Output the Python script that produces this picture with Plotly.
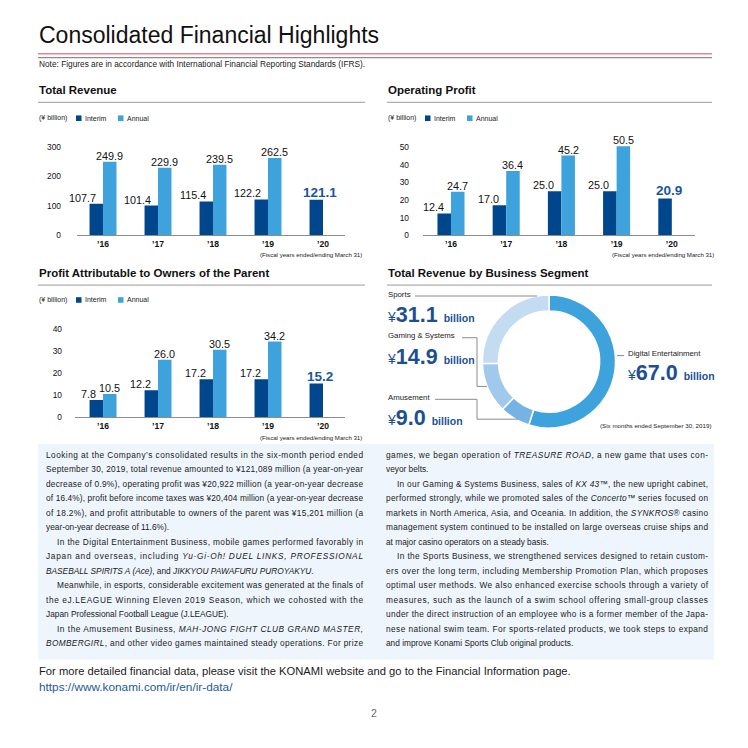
import json
import plotly.graph_objects as go

# ---------------- data ----------------
years = ["’16", "’17", "’18", "’19", "’20"]
rev_interim = [107.7, 101.4, 115.4, 122.2, 121.1]
rev_annual = [249.9, 229.9, 239.5, 262.5, None]
op_interim = [12.4, 17.0, 25.0, 25.0, 20.9]
op_annual = [24.7, 36.4, 45.2, 50.5, None]
pa_interim = [7.8, 12.2, 17.2, 17.2, 15.2]
pa_annual = [10.5, 26.0, 30.5, 34.2, None]
rev_ticks = [0, 100, 200, 300]
op_ticks = [0, 10, 20, 30, 40, 50]
pa_ticks = [0, 10, 20, 30, 40]

segments = ["Digital Entertainment", "Amusement", "Gaming & Systems", "Sports"]
seg_values = [67.0, 9.0, 14.9, 31.1]

# (text, indented, justified)
left_col = [
    ("Looking at the Company’s consolidated results in the six-month period ended", 0, 1),
    ("September 30, 2019, total revenue amounted to ¥121,089 million (a year-on-year", 0, 1),
    ("decrease of 0.9%), operating profit was ¥20,922 million (a year-on-year decrease", 0, 1),
    ("of 16.4%), profit before income taxes was ¥20,404 million (a year-on-year decrease", 0, 1),
    ("of 18.2%), and profit attributable to owners of the parent was ¥15,201 million (a", 0, 1),
    ("year-on-year decrease of 11.6%).", 0, 0),
    ("In the Digital Entertainment Business, mobile games performed favorably in", 1, 1),
    ("Japan and overseas, including <i>Yu-Gi-Oh! DUEL LINKS, PROFESSIONAL</i>", 0, 1),
    ("<i>BASEBALL SPIRITS A (Ace)</i>, and <i>JIKKYOU PAWAFURU PUROYAKYU</i>.", 0, 0),
    ("Meanwhile, in esports, considerable excitement was generated at the finals of", 1, 1),
    ("the eJ.LEAGUE Winning Eleven 2019 Season, which we cohosted with the", 0, 1),
    ("Japan Professional Football League (J.LEAGUE).", 0, 0),
    ("In the Amusement Business, <i>MAH-JONG FIGHT CLUB GRAND MASTER,</i>", 1, 1),
    ("<i>BOMBERGIRL</i>, and other video games maintained steady operations. For prize", 0, 1),
]
right_col = [
    ("games, we began operation of <i>TREASURE ROAD</i>, a new game that uses con-", 0, 1),
    ("veyor belts.", 0, 0),
    ("In our Gaming &amp; Systems Business, sales of <i>KX 43</i>™, the new upright cabinet,", 1, 1),
    ("performed strongly, while we promoted sales of the <i>Concerto</i>™ series focused on", 0, 1),
    ("markets in North America, Asia, and Oceania. In addition, the <i>SYNKROS</i>® casino", 0, 1),
    ("management system continued to be installed on large overseas cruise ships and", 0, 1),
    ("at major casino operators on a steady basis.", 0, 0),
    ("In the Sports Business, we strengthened services designed to retain custom-", 1, 1),
    ("ers over the long term, including Membership Promotion Plan, which proposes", 0, 1),
    ("optimal user methods. We also enhanced exercise schools through a variety of", 0, 1),
    ("measures, such as the launch of a swim school offering small-group classes", 0, 1),
    ("under the direct instruction of an employee who is a former member of the Japa-", 0, 1),
    ("nese national swim team. For sports-related products, we took steps to expand", 0, 1),
    ("and improve Konami Sports Club original products.", 0, 0),
]

# ---------------- style ----------------
W = H = 748
FONT = "Liberation Sans, Arial, Helvetica, sans-serif"
NAVY = "#00468c"
SKY = "#3ea3dd"
HILITE = "#1a56a0"
VALBLUE = "#1d4f94"
GRAYLINE = "#8c8c8c"
TXT = "#1a1a1a"
SEG_COLORS = ["#3ea3dd", "#74b3e4", "#a0c9ed", "#c4dcf2"]
NUDGE = -2


def px(x):
    return x / W


def py(y):
    return 1 - y / H


fig = go.Figure()
annotations = []
shapes = []
justify = {}


def text(x, y, t, size=8, color=TXT, xanchor="left", yanchor="middle", bold=False,
         nudge=NUDGE, align="center"):
    if bold:
        t = "<b>" + t + "</b>"
    annotations.append(dict(x=px(x), y=py(y + nudge), xref="paper", yref="paper", text=t,
                            showarrow=False, xanchor=xanchor, yanchor=yanchor, align=align,
                            font=dict(family=FONT, size=size, color=color)))
    return len(annotations) - 1


def hline(x0, x1, y, color=GRAYLINE, width=1):
    shapes.append(dict(type="line", xref="paper", yref="paper", x0=px(x0), x1=px(x1),
                       y0=py(y), y1=py(y), line=dict(color=color, width=width)))


def path(points, color=GRAYLINE, width=1):
    d = "M " + " L ".join(f"{px(a)},{py(b)}" for a, b in points)
    shapes.append(dict(type="path", xref="paper", yref="paper", path=d,
                       line=dict(color=color, width=width)))


def rect(x0, y0, x1, y1, color, layer="below"):
    shapes.append(dict(type="rect", xref="paper", yref="paper", x0=px(x0), x1=px(x1),
                       y0=py(y1), y1=py(y0), fillcolor=color, line=dict(width=0), layer=layer))


# ---------------- header ----------------
text(37, 37, "Consolidated Financial Highlights", size=23, color="#111")
hline(38, 712, 54, color="#e8838f", width=1.5)
hline(38, 712, 58, color=GRAYLINE, width=1.2)
text(37, 66, "Note: Figures are in accordance with International Financial Reporting Standards (IFRS).", size=8.3)


def section(x0, x1, y, title):
    text(x0 - 1, y, title, size=11.5, bold=True, color="#111")
    hline(x0, x1, y + 10, color="#9a9a9a", width=1)


def legend(x0, y):
    text(x0 - 1, y, "(¥ billion)", size=7)
    rect(x0 + 38, y - 2.8 + NUDGE, x0 + 43.5, y + 2.8 + NUDGE, NAVY, layer="above")
    text(x0 + 45, y, "Interim", size=7)
    rect(x0 + 80, y - 2.8 + NUDGE, x0 + 85.5, y + 2.8 + NUDGE, SKY, layer="above")
    text(x0 + 87, y, "Annual", size=7)


section(38, 365, 93, "Total Revenue")
section(387, 712, 93, "Operating Profit")
section(38, 365, 277, "Profit Attributable to Owners of the Parent")
section(387, 712, 277, "Total Revenue by Business Segment")
legend(38, 121)
legend(387, 121)
legend(38, 304)

# ---------------- bar charts ----------------
charts = [
    # suffix, interim, annual, ticks, x0, x1, y_zero, y_toptick, xrange, spacing, standoff
    ("", rev_interim, rev_annual, rev_ticks, 77, 345, 237, 148, [-0.473, 4.4], 55, 15),
    ("2", op_interim, op_annual, op_ticks, 423, 695, 237, 148, [-0.507, 4.42], 55.2, 13),
    ("3", pa_interim, pa_annual, pa_ticks, 75, 345, 420, 331, [-0.51, 4.4], 55, 12),
]
BARGAP = 0.51
for suf, inter, ann, ticks, x0, x1, yb, yt, xr, sp, so in charts:
    xa = "x" + suf
    ya = "y" + suf
    ymax = ticks[-1] * 1.1
    ytop = yb - (yb - yt) * ymax / ticks[-1]
    fig.add_trace(go.Bar(x=years, y=inter, marker=dict(color=NAVY, line=dict(width=0)),
                         xaxis=xa, yaxis=ya, cliponaxis=False, hoverinfo="skip", showlegend=False))
    fig.add_trace(go.Bar(x=years, y=ann, marker=dict(color=SKY, line=dict(width=0)),
                         xaxis=xa, yaxis=ya, cliponaxis=False, hoverinfo="skip", showlegend=False))
    axis_x = dict(domain=[px(x0), px(x1)], range=xr, type="category", showline=True,
                  linecolor=GRAYLINE, linewidth=1, ticks="", showgrid=False, zeroline=False,
                  tickvals=years, ticktext=[f"<b>{y}</b>" for y in years],
                  tickfont=dict(family=FONT, size=8.6, color="#111"), ticklabelstandoff=0,
                  anchor=ya, fixedrange=True)
    axis_y = dict(domain=[py(yb), py(ytop)], range=[0, ymax], tickvals=ticks, showgrid=False,
                  zeroline=False, showline=False, ticks="",
                  tickfont=dict(family=FONT, size=8.4, color="#111"), ticklabelstandoff=so,
                  anchor=xa, fixedrange=True)
    fig.update_layout(**{"xaxis" + suf: axis_x, "yaxis" + suf: axis_y})
    half = sp * (1 - BARGAP) / 4  # half of one bar width in px
    for i, (vi, va) in enumerate(zip(inter, ann)):
        if va is None:
            annotations.append(dict(x=years[i], y=vi, xref=xa, yref=ya, text=f"<b>{vi:.1f}</b>",
                                    showarrow=False, xanchor="center", yanchor="bottom",
                                    xshift=-3, yshift=-2,
                                    font=dict(family=FONT, size=13.5, color=HILITE)))
        else:
            annotations.append(dict(x=years[i], y=vi, xref=xa, yref=ya, text=f"{vi:.1f}",
                                    showarrow=False, xanchor="right", yanchor="bottom",
                                    xshift=-half + 1.5, yshift=-2,
                                    font=dict(family=FONT, size=10.8, color="#111")))
            annotations.append(dict(x=years[i], y=va, xref=xa, yref=ya, text=f"{va:.1f}",
                                    showarrow=False, xanchor="center", yanchor="bottom",
                                    xshift=half, yshift=-2,
                                    font=dict(family=FONT, size=10.8, color="#111")))

fig.update_layout(barmode="group", bargap=BARGAP, bargroupgap=0)

text(364, 258, "(Fiscal years ended/ending March 31)", size=6.1, xanchor="right")
text(716, 258, "(Fiscal years ended/ending March 31)", size=6.1, xanchor="right")
text(364, 442, "(Fiscal years ended/ending March 31)", size=6.1, xanchor="right")

# ---------------- donut ----------------
fig.add_trace(go.Pie(labels=segments, values=seg_values, hole=0.76, sort=False,
                     direction="clockwise", rotation=0, textinfo="none", hoverinfo="skip",
                     marker=dict(colors=SEG_COLORS, line=dict(color="white", width=1.5)),
                     domain=dict(x=[px(482), px(616)], y=[py(431), py(297)]),
                     showlegend=False))


def seg_value(v):
    return (f"<span style='font-size:14px'>¥</span><b>{v:.1f}</b> "
            f"<span style='font-size:10.5px'><b>billion</b></span>")


seg_pos = {  # x, label y, value y
    "Sports": (387, 298, 319),
    "Gaming & Systems": (387, 340, 361),
    "Amusement": (387, 402, 423),
    "Digital Entertainment": (627, 358, 378),
}
for name, v in zip(segments, seg_values):
    x, ly, vy = seg_pos[name]
    text(x - 1, ly, name.replace("&", "&amp;"), size=7.8)
    text(x - 2, vy, seg_value(v), size=21.5, color=VALBLUE)

path([(415, 298), (537, 298)])
path([(462, 340), (477, 340), (477, 389), (487, 389)])
path([(435, 402), (477, 402), (477, 422), (518, 422)])
path([(617, 358), (624, 358)])
text(713, 430, "(Six months ended September 30, 2019)", size=6.2, xanchor="right")

# ---------------- body text ----------------
rect(38, 447, 714, 664, "#eef5fc")
LINE0, STEP = 458, 14.6
for col, x0, x1 in ((left_col, 46, 363), (right_col, 386, 708)):
    for i, (t, ind, jus) in enumerate(col):
        xs = x0 + 11 * ind
        k = text(xs - 2, LINE0 + i * STEP, t, size=8.3, nudge=0, align="left")
        if jus:
            justify[k] = x1 - xs

text(37, 678, "For more detailed financial data, please visit the KONAMI website and go to the Financial Information page.", size=11.2)
text(37, 694, "https://www.konami.com/ir/en/ir-data/", size=11.8, color="#1a5aa0")
text(374, 720, "2", size=10.5, color="#666", xanchor="center")

fig.update_layout(width=W, height=H, autosize=False, margin=dict(l=0, r=0, t=0, b=0),
                  paper_bgcolor="white", plot_bgcolor="rgba(0,0,0,0)",
                  annotations=annotations, shapes=shapes, font=dict(family=FONT))

post = """
document.body.style.margin = '0';
var gd = document.getElementById('{plot_id}');
var J = %s;
for (var k in J) {
  var t = gd.querySelector('g.annotation[data-index="' + k + '"] text.annotation-text');
  if (t) { t.setAttribute('textLength', J[k]); t.setAttribute('lengthAdjust', 'spacing'); }
}
""" % json.dumps({str(k): v for k, v in justify.items()})

fig.write_html("out.html", config={"displayModeBar": False}, post_script=post)
